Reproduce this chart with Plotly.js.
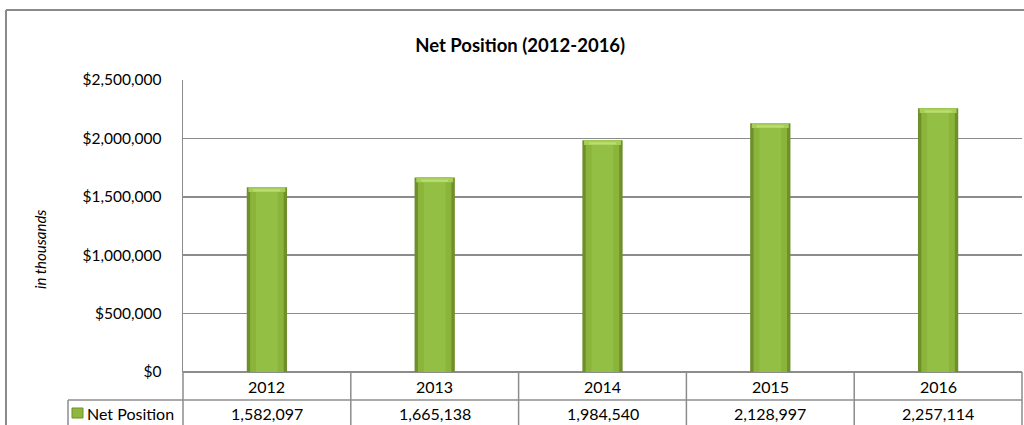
<!DOCTYPE html>
<html>
<head>
<meta charset="utf-8">
<script src="https://cdn.plot.ly/plotly-3.0.1.min.js"></script>
<style>html,body{margin:0;padding:0;background:#fff;}#chart{width:1024px;height:425px;}</style>
</head>
<body>
<div id="chart"></div>
<script>
const years = ['2012', '2013', '2014', '2015', '2016'];
const netPosition = [1582097, 1665138, 1984540, 2128997, 2257114];
const seriesName = 'Net Position';
const yTickVals = [0, 500000, 1000000, 1500000, 2000000, 2500000];
const yTickText = ['$0', '$500,000', '$1,000,000', '$1,500,000', '$2,000,000', '$2,500,000'];

const W = 1024, H = 425;
const L = 183, R = 2, T = 80, B = 53;
const pw = W - L - R, ph = H - T - B;
const px = v => (v - L) / pw;          // pixel x -> paper
const py = v => (H - B - v) / ph;      // pixel y -> paper

const FONT = 'Lato, Carlito, "Liberation Sans", sans-serif';
const GRID = '#8c8c8c';

const traces = [
  { type: 'bar', x: years, y: netPosition, name: seriesName, width: 0.24,
    marker: { color: '#6e8f2c', line: { width: 0 } }, hoverinfo: 'skip', showlegend: false },
  { type: 'bar', x: years, y: netPosition, name: seriesName, width: 0.20,
    marker: { color: '#8ab43a', line: { width: 0 } }, showlegend: false },
  { type: 'bar', x: years, y: netPosition.map(v => v * 0.985), name: seriesName, width: 0.13,
    marker: { color: '#93bf44', line: { width: 0 } }, hoverinfo: 'skip', showlegend: false },
  { type: 'bar', x: years, y: netPosition.map(() => 40000), base: netPosition.map(v => v - 40000),
    name: seriesName, width: 0.22,
    marker: { color: '#a6cf58', line: { width: 0 } }, hoverinfo: 'skip', showlegend: false },
  { type: 'bar', x: years, y: netPosition.map(() => 18000), base: netPosition.map(v => v - 36000),
    name: seriesName, width: 0.16,
    marker: { color: '#bcdc74', line: { width: 0 } }, hoverinfo: 'skip', showlegend: false }
];

const shapes = [];
const line = (x0, y0, x1, y1, color, w) => shapes.push({
  type: 'line', xref: 'paper', yref: 'paper', x0, y0, x1, y1,
  line: { color, width: w }, layer: 'above'
});
// outer chart frame (top + left)
line(px(6), py(10), px(1030), py(10), '#8a8a8a', 2);
line(px(6), py(10), px(6), py(440), '#8a8a8a', 2);
// data table grid
line(px(68), py(400), 1, py(400), GRID, 1.5);
line(px(68), py(400), px(68), py(440), GRID, 1.5);
line(0, 0, 0, py(440), GRID, 1.5);
line(1, 0, 1, py(440), GRID, 1.5);
for (let i = 1; i < years.length; i++) {
  shapes.push({ type: 'line', xref: 'x', yref: 'paper', x0: i - 0.5, x1: i - 0.5,
    y0: 0, y1: py(440), line: { color: GRID, width: 1.5 } });
}
// legend key
shapes.push({ type: 'rect', xref: 'paper', yref: 'paper', x0: px(72), x1: px(83), y0: py(408), y1: py(418),
  fillcolor: '#8db83c', line: { color: '#6e8f2c', width: 1 } });

const annotations = [];
years.forEach((yr, i) => {
  annotations.push({ xref: 'x', yref: 'paper', x: i, y: py(386), text: yr, showarrow: false,
    xanchor: 'center', yanchor: 'middle', font: { family: FONT, size: 16, color: '#000' } });
  annotations.push({ xref: 'x', yref: 'paper', x: i, y: py(413), text: netPosition[i].toLocaleString('en-US'),
    showarrow: false, xanchor: 'center', yanchor: 'middle', font: { family: FONT, size: 16, color: '#000' } });
});
annotations.push({ xref: 'paper', yref: 'paper', x: px(85), y: py(413), text: seriesName, showarrow: false,
  xanchor: 'left', yanchor: 'middle', font: { family: FONT, size: 16, color: '#000' } });
annotations.push({ xref: 'paper', yref: 'paper', x: px(40), y: py(250), text: '<i>in thousands</i>', showarrow: false,
  textangle: -90, xanchor: 'center', yanchor: 'middle', font: { family: FONT, size: 15, color: '#000' } });

const layout = {
  width: W, height: H,
  margin: { l: L, r: R, t: T, b: B, pad: 0 },
  paper_bgcolor: '#fff', plot_bgcolor: '#fff',
  barmode: 'overlay',
  showlegend: false,
  title: { text: '<b>Net Position (2012-2016)</b>', x: 0.508, xanchor: 'center', y: 1 - 46 / H, yanchor: 'middle',
    font: { family: FONT, size: 18.5, color: '#000' } },
  xaxis: { type: 'category', range: [-0.5, years.length - 0.5], showticklabels: false, ticks: '',
    showgrid: false, zeroline: false, showline: false, fixedrange: true },
  yaxis: { range: [0, 2500000], tickvals: yTickVals, ticktext: yTickText, ticks: '',
    ticklabelstandoff: 17,
    showgrid: true, gridcolor: GRID, gridwidth: 1.5, zeroline: true, zerolinecolor: GRID, zerolinewidth: 1.5,
    showline: true, linecolor: GRID, linewidth: 1.5,
    tickfont: { family: FONT, size: 15.5, color: '#000' }, fixedrange: true },
  shapes, annotations
};

Plotly.newPlot('chart', traces, layout, { displayModeBar: false, staticPlot: true });
</script>
</body>
</html>
